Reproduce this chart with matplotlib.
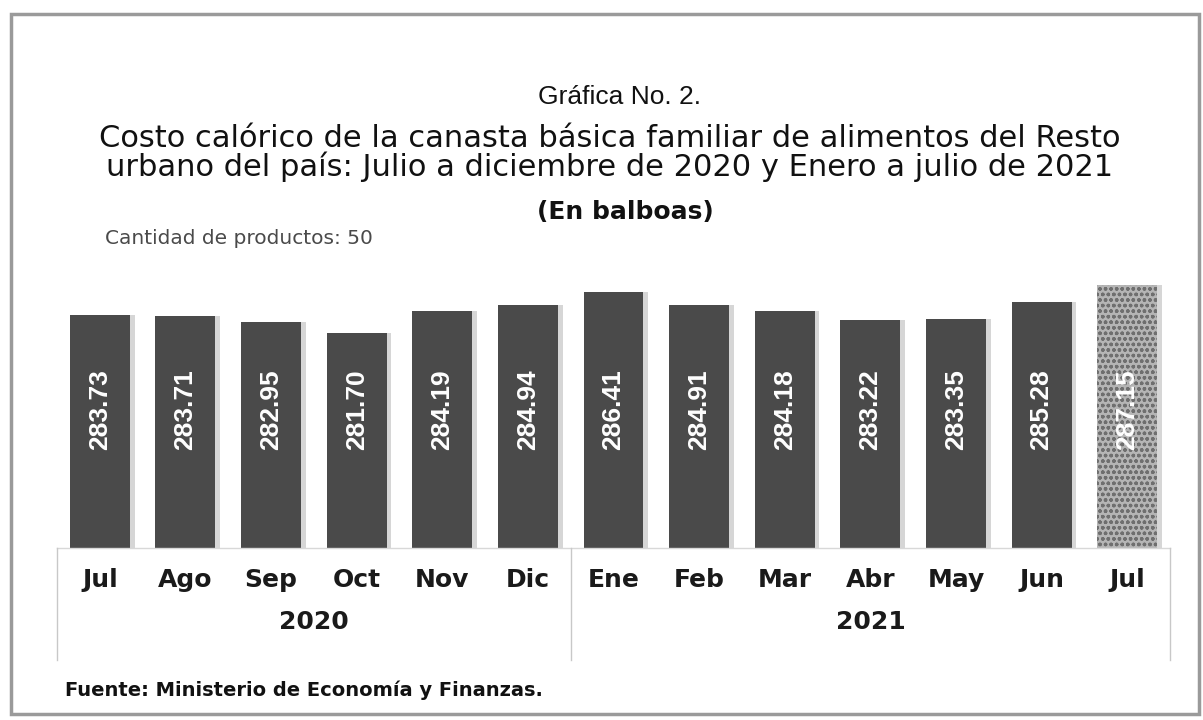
import matplotlib.pyplot as plt
from matplotlib.patches import Rectangle

plt.rcParams['font.family'] = ['DejaVu Sans']

months = ['Jul', 'Ago', 'Sep', 'Oct', 'Nov', 'Dic',
          'Ene', 'Feb', 'Mar', 'Abr', 'May', 'Jun', 'Jul']
values = [283.73, 283.71, 282.95, 281.70, 284.19, 284.94,
          286.41, 284.91, 284.18, 283.22, 283.35, 285.28, 287.15]
years = ['2020', '2021']
year_counts = [6, 7]

fig = plt.figure(figsize=(12.03, 7.2), dpi=100)
ax = fig.add_axes([0.0474, 0.239, 0.9252, 0.386])

x = list(range(len(values)))
base = 257.2
heights = [v - base for v in values]

# soft drop shadow
ax.bar([i + 0.045 for i in x], heights, bottom=base, width=0.72,
       color='#d6d6d6', zorder=1)
colors = ['#4a4a4a'] * (len(values) - 1) + ['#b5b5b5']
bars = ax.bar(x, heights, bottom=base, width=0.7, color=colors, zorder=2)
bars[-1].set_hatch('ooo')
bars[-1].set_edgecolor('#6f6f6f')
bars[-1].set_linewidth(0)

for i, v in enumerate(values):
    ax.text(i, 273.0, f'{v:.2f}', rotation=90, ha='center', va='center',
            color='white', fontsize=19, fontweight='bold',
            family='Liberation Sans', zorder=3)

ax.set_xlim(-0.5, len(values) - 0.5)
ax.set_ylim(base, 288.9)
ax.set_xticks([])
ax.set_yticks([])
for s in ax.spines.values():
    s.set_visible(False)

# category box under the bars
box_bottom = -0.403
ax.plot([0, 1], [0, 0], transform=ax.transAxes, color='#d8d8d8',
        lw=1, clip_on=False)
start = -0.5
divs = [start]
for c in year_counts:
    start += c
    divs.append(start)
for d in divs:
    ax.plot([d, d], [0, box_bottom], color='#c8c8c8', lw=1,
            transform=ax.get_xaxis_transform(), clip_on=False)

for i, m in enumerate(months):
    ax.text(i, -0.115, m, ha='center', va='center', fontsize=18,
            fontweight='bold', color='#1a1a1a',
            transform=ax.get_xaxis_transform())
for k, yr in enumerate(years):
    mid = (divs[k] + divs[k + 1]) / 2
    ax.text(mid, -0.265, yr, ha='center', va='center', fontsize=18,
            fontweight='bold', color='#1a1a1a',
            transform=ax.get_xaxis_transform())

fig.text(0.515, 0.865, 'Gráfica No. 2.', ha='center', va='center',
         fontsize=19, family='Liberation Sans', color='#111111')
fig.text(0.507, 0.808, 'Costo calórico de la canasta básica familiar de alimentos del Resto',
         ha='center', va='center', fontsize=22, color='#111111')
fig.text(0.507, 0.769, 'urbano del país: Julio a diciembre de 2020 y Enero a julio de 2021',
         ha='center', va='center', fontsize=22, color='#111111')
fig.text(0.520, 0.706, '(En balboas)', ha='center', va='center',
         fontsize=18, fontweight='bold', color='#111111')
fig.text(0.087, 0.669, 'Cantidad de productos: 50', ha='left', va='center',
         fontsize=14.5, color='#4a4a4a')
fig.text(0.054, 0.042, 'Fuente: Ministerio de Economía y Finanzas.', ha='left',
         va='center', fontsize=14, fontweight='bold', color='#111111')

# scanned frame
fig.patches.append(Rectangle((0.009, 0.008), 0.988, 0.972, fill=False,
                             edgecolor='#9a9a9a', lw=2.5,
                             transform=fig.transFigure))

fig.savefig('out.png', dpi=100, facecolor='white')
